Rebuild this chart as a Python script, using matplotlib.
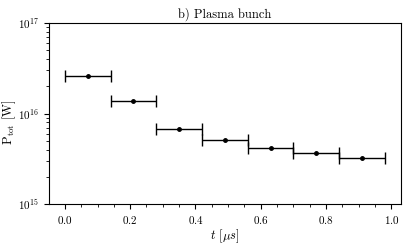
import numpy as np
import matplotlib
matplotlib.use('Agg')
import matplotlib.pyplot as plt
from matplotlib.ticker import AutoMinorLocator

plt.rcParams['font.family'] = 'cmr10'
plt.rcParams['mathtext.fontset'] = 'cm'
plt.rcParams['axes.formatter.use_mathtext'] = True
plt.rcParams['font.size'] = 9

# bin centres and half widths (in microseconds)
t_centers = [0.07, 0.21, 0.35, 0.49, 0.63, 0.77, 0.91]
t_halfwidth = [0.07, 0.07, 0.07, 0.07, 0.07, 0.07, 0.07]
p_tot = [2.62e16, 1.38e16, 6.7e15, 5.06e15, 4.19e15, 3.66e15, 3.25e15]

fig = plt.figure(figsize=(4.07, 2.44), dpi=100)
ax = fig.add_axes([0.120, 0.162, 0.865, 0.745])

ax.errorbar(t_centers, p_tot, xerr=t_halfwidth, fmt='o', color='black',
            markersize=2.5, capsize=4, elinewidth=1.0, capthick=1.0)

ax.set_yscale('log')
ax.set_ylim(1e15, 1e17)
ax.set_xticks([0.0, 0.2, 0.4, 0.6, 0.8, 1.0])
ax.xaxis.set_minor_locator(AutoMinorLocator(4))
ax.tick_params(axis='both', labelsize=8)
ax.set_xlabel(r'$t$ [$\mu s$]', labelpad=1)
ax.set_ylabel(r'$\mathrm{P_{tot}}$ [W]', fontsize=9)
ax.yaxis.set_label_coords(-0.088, 0.45)
ax.set_title('b) Plasma bunch', fontsize=9, pad=4)

fig.savefig('out.png', dpi=100)
